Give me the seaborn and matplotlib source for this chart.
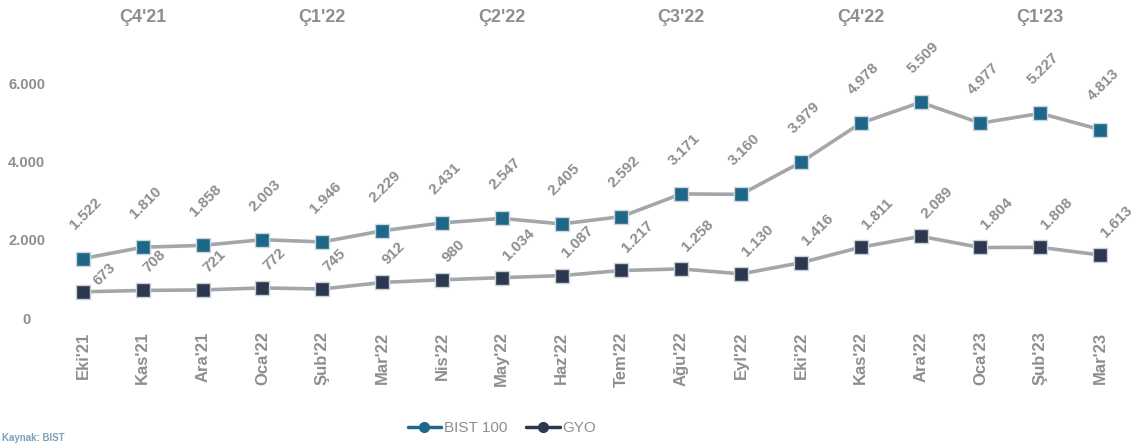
import pandas as pd
import numpy as np
import seaborn as sns
import matplotlib.pyplot as plt
import matplotlib.transforms as mtransforms
from matplotlib.lines import Line2D

months = ["Eki'21", "Kas'21", "Ara'21", "Oca'22", "Şub'22", "Mar'22", "Nis'22", "May'22", "Haz'22",
          "Tem'22", "Ağu'22", "Eyl'22", "Eki'22", "Kas'22", "Ara'22", "Oca'23", "Şub'23", "Mar'23"]
bist100 = [1522, 1810, 1858, 2003, 1946, 2229, 2431, 2547, 2405, 2592, 3171, 3160, 3979, 4978, 5509, 4977, 5227, 4813]
gyo = [673, 708, 721, 772, 745, 912, 980, 1034, 1087, 1217, 1258, 1130, 1416, 1811, 2089, 1804, 1808, 1613]
quarters = ["Ç4'21", "Ç1'22", "Ç2'22", "Ç3'22", "Ç4'22", "Ç1'23"]
yticks = [0, 2000, 4000, 6000]
ytick_labels = ["0", "2.000", "4.000", "6.000"]

GREY = '#8e8e8e'
BIST_C = '#1f6788'
GYO_C = '#2c3850'
LINE_C = '#a3a7aa'

sns.set_theme(style='white')
plt.rcParams['font.family'] = ['Liberation Sans', 'DejaVu Sans']

df = pd.DataFrame({'x': np.arange(len(months)), 'BIST 100': bist100, 'GYO': gyo})

fig = plt.figure(figsize=(11.33, 4.46), dpi=100)
ax = fig.add_axes([0.0468, 0.269, 0.9506, 0.5975])

sns.lineplot(data=df, x='x', y='BIST 100', ax=ax, color=LINE_C, linewidth=2.6,
             marker='s', markersize=9.5, markerfacecolor=BIST_C, markeredgecolor='#c9d6dd',
             markeredgewidth=1)
sns.lineplot(data=df, x='x', y='GYO', ax=ax, color=LINE_C, linewidth=2.6,
             marker='s', markersize=9.5, markerfacecolor=GYO_C, markeredgecolor='#c9d0d6',
             markeredgewidth=1)

fmt = lambda v: '{:,}'.format(v).replace(',', '.')
for i, v in enumerate(bist100):
    ax.annotate(fmt(v), (i, v), xytext=(3, 26), textcoords='offset pixels', rotation=45,
                ha='center', va='bottom', color=GREY, fontsize=11, fontweight='bold')
for i, v in enumerate(gyo):
    # first label sits a bit lower / to the right, clear of the BIST marker
    off = (8, 4) if i == 0 else (-2, 15)
    ax.annotate(fmt(v), (i, v), xytext=off, textcoords='offset pixels', rotation=45,
                ha='left', va='bottom', color=GREY, fontsize=11, fontweight='bold')

ax.set_xlim(-0.5, len(months) - 0.5)
ax.set_ylim(-200, 6600)
ax.set_xticks(df['x'])
ax.set_xticklabels(months, rotation=90, color=GREY, fontsize=12, fontweight='bold')
ax.set_yticks(yticks)
ax.set_yticklabels(ytick_labels, color=GREY, fontsize=10.5, fontweight='bold', ha='center')
ax.tick_params(axis='y', pad=19, length=0)
ax.tick_params(axis='x', pad=4, length=0)
ax.set_xlabel('')
ax.set_ylabel('')
sns.despine(ax=ax, left=True, bottom=True)

trans = mtransforms.blended_transform_factory(ax.transData, fig.transFigure)
for k, q in enumerate(quarters):
    ax.text(3 * k + 1, 0.96, q, transform=trans, ha='center', va='center',
            color=GREY, fontsize=13, fontweight='bold')

handles = [Line2D([0], [0], color=BIST_C, marker='o', markersize=7, linewidth=2.5),
           Line2D([0], [0], color=GYO_C, marker='o', markersize=7, linewidth=2.5)]
leg = fig.legend(handles, ['BIST 100', 'GYO'], loc='center', bbox_to_anchor=(0.443, 1 - 428 / 446),
                 ncol=2, frameon=False, fontsize=11, handlelength=2.2, handletextpad=0.2,
                 columnspacing=1.2)
for t in leg.get_texts():
    t.set_color(GREY)

fig.text(0.002, 1 - 438 / 446, 'Kaynak: BIST', color='#7fa0b6', fontsize=7, fontweight='bold',
         ha='left', va='center')

plt.savefig('out.png', dpi=100)
